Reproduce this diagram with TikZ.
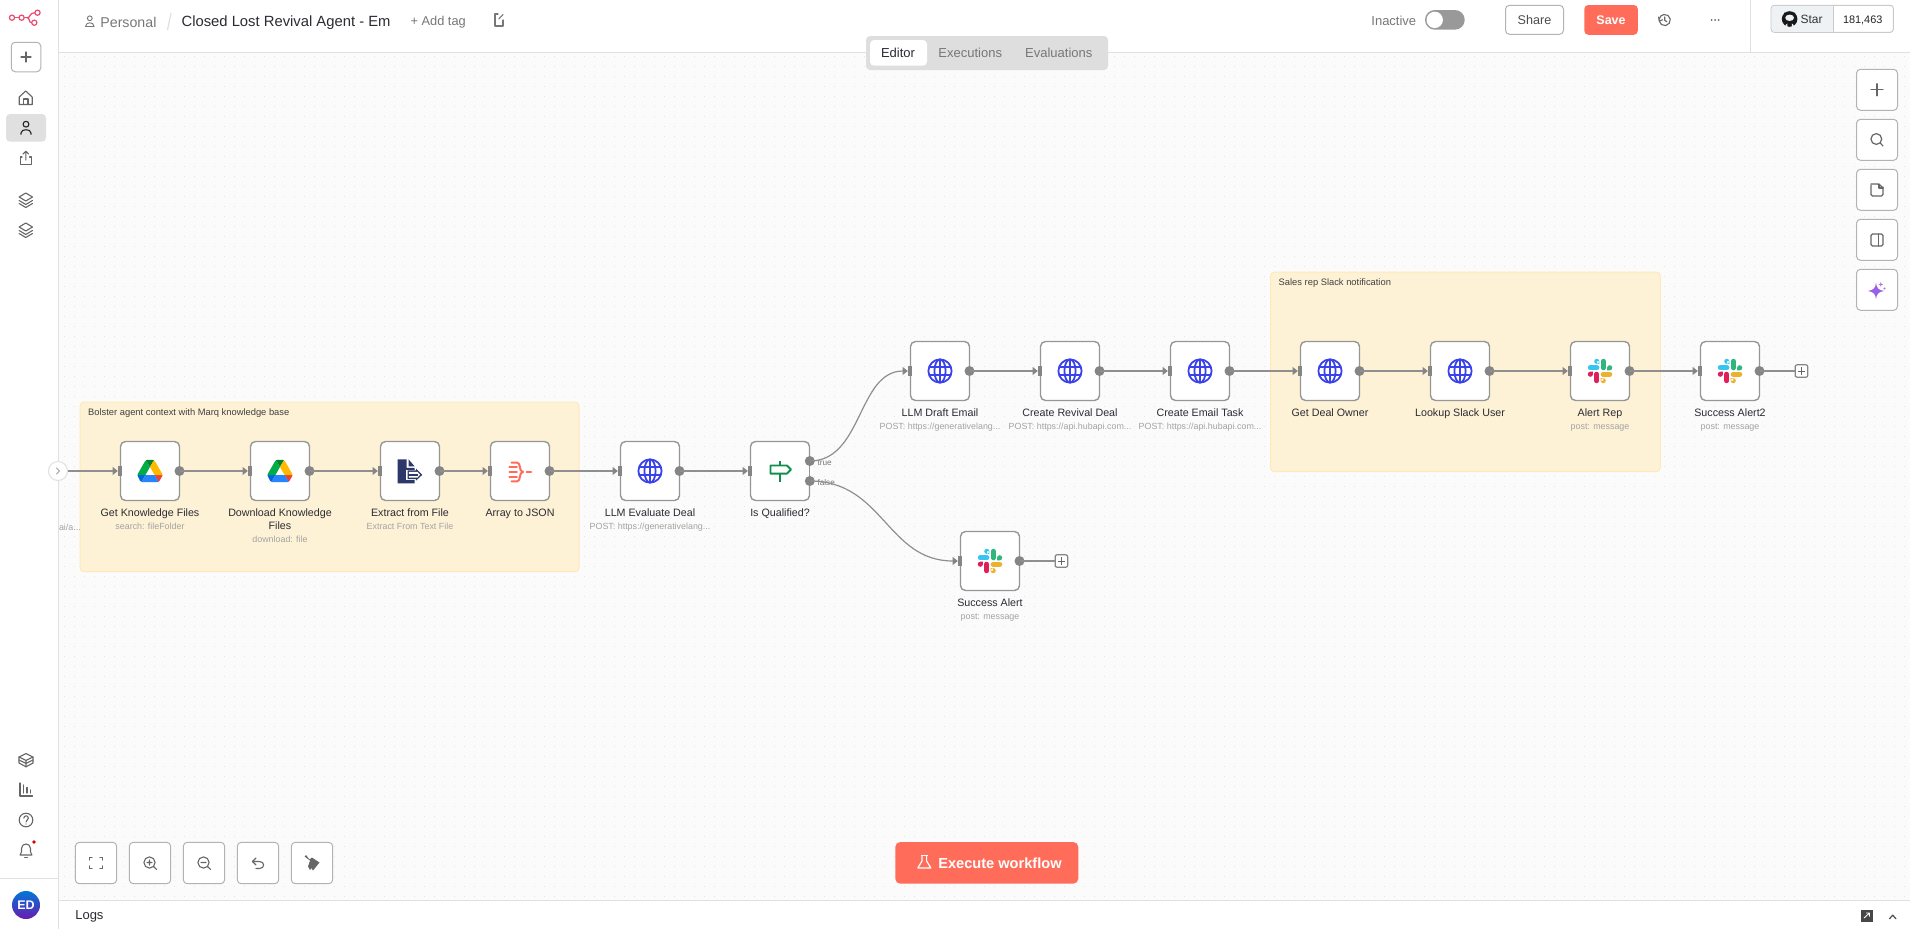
\documentclass[tikz,border=0pt]{standalone}
\usepackage{fontspec}
\setmainfont{Liberation Sans}
\usetikzlibrary{arrows.meta}
\definecolor{canvasc}{HTML}{FBFBFB}
\definecolor{linec}{HTML}{E0E0E0}
\definecolor{dotc}{HTML}{E4E4E4}
\definecolor{edgec}{HTML}{8F8F8F}
\definecolor{portc}{HTML}{858585}
\definecolor{boxc}{HTML}{969696}
\definecolor{groupf}{HTML}{FEF2D6}
\definecolor{groupd}{HTML}{FFE9B8}
\definecolor{inkc}{HTML}{2B2B33}
\definecolor{subc}{HTML}{A3A3A3}
\definecolor{greyt}{HTML}{777777}
\definecolor{iconc}{HTML}{666666}
\definecolor{btnd}{HTML}{B3B3B3}
\definecolor{coral}{HTML}{FF6D5A}
\definecolor{pinkc}{HTML}{EA4B71}
\definecolor{globec}{HTML}{3A42E9}
\definecolor{navyc}{HTML}{2D3768}
\definecolor{ifc}{HTML}{0E8F4A}
\definecolor{tabc}{HTML}{DEDEDE}
\newcommand{\fz}[2]{\fontsize{#1}{#2}\selectfont}
\tikzset{
  nodebox/.style={draw=boxc,line width=1.4,fill=white,rounded corners=5,minimum width=59,minimum height=59,inner sep=0,outer sep=0},
  lab/.style={anchor=north,align=center,inner sep=0,outer sep=0,text=inkc,font=\fz{10.7}{13}},
  sublab/.style={anchor=north,align=center,inner sep=0,outer sep=0,text=subc,font=\fz{8.9}{13}},
  conn/.style={draw=edgec,line width=1.2,shorten >=7.5},
  stub/.style={draw=edgec,line width=1.2},
  groupbox/.style={draw=groupd,line width=1,fill=groupf,rounded corners=4},
  grouptitle/.style={anchor=west,inner sep=0,text=black!75,font=\fz{9.35}{11}},
  uibtn/.style={draw=btnd,line width=1,fill=white,rounded corners=4,inner sep=0,outer sep=0},
  ico/.style={draw=iconc,line width=1.1,line cap=round,line join=round},
  plusbox/.style={draw=portc,line width=1.2,fill=white,rounded corners=2,minimum size=12.5,inner sep=0,outer sep=0},
  uitext/.style={inner sep=0,outer sep=0},
}
\newcommand{\globeicon}{%
  \begin{scope}[draw=globec,line width=1.8]
    \draw (0,0) circle (11.6);
    \draw (0,0) ellipse (5.6 and 11.6);
    \draw (0,-11.6) -- (0,11.6);
    \draw (-10.6,-4.2) -- (10.6,-4.2);
    \draw (-10.6,4.2) -- (10.6,4.2);
  \end{scope}}
\newcommand{\driveicon}{%
  \begin{scope}[x=.286pt,y=-.286pt,shift={(-43.65,-39)}]
    \fill[fill={rgb,255:red,0;green,102;blue,218}] (0,53) -- (27.5,53) -- (13.75,76.8) -- (9,73) -- (1.2,57.5) -- cycle;
    \fill[fill={rgb,255:red,0;green,172;blue,71}] (43.65,25) -- (27.5,53) -- (0,53) -- (1.2,48.5) -- (26.6,4.5) -- (29.9,1.2) -- cycle;
    \fill[fill={rgb,255:red,234;green,67;blue,53}] (87.3,53) -- (59.8,53) -- (73.55,76.8) -- (77,73) -- (86.1,57.5) -- cycle;
    \fill[fill={rgb,255:red,0;green,131;blue,45}] (43.65,25) -- (57.4,1.2) -- (52.9,0) -- (34.4,0) -- (29.9,1.2) -- cycle;
    \fill[fill={rgb,255:red,38;green,132;blue,252}] (59.8,53) -- (27.5,53) -- (13.75,76.8) -- (18.25,78) -- (69.05,78) -- (73.55,76.8) -- cycle;
    \fill[fill={rgb,255:red,255;green,186;blue,0}] (73.4,26.5) -- (60.7,4.5) -- (57.4,1.2) -- (43.65,25) -- (59.8,53) -- (87.3,53) -- (86.1,48.5) -- cycle;
  \end{scope}}
\definecolor{slackr}{HTML}{E01E5A}
\definecolor{slackb}{HTML}{36C5F0}
\definecolor{slackg}{HTML}{2EB67D}
\definecolor{slacky}{HTML}{ECB22E}
\newcommand{\slackicon}{%
  \begin{scope}[x=1.02pt,y=-1.02pt,shift={(-12,-12)},line width=5.14,line cap=round]
    \draw[slackb] (2.52,8.834) -- (8.834,8.834);
    \fill[slackb] (8.834,2.52) circle (2.52) (8.834,2.52) rectangle (11.355,5.042);
    \draw[slackg] (15.165,2.52) -- (15.165,8.834);
    \fill[slackg] (21.48,8.834) circle (2.52) (21.48,8.834) rectangle (18.956,11.355);
    \draw[slackr] (8.834,15.165) -- (8.834,21.48);
    \fill[slackr] (2.52,15.165) circle (2.52) (2.52,15.165) rectangle (5.04,12.645);
    \draw[slacky] (15.165,15.165) -- (21.48,15.165);
    \fill[slacky] (15.165,21.48) circle (2.52) (15.165,21.48) rectangle (12.645,18.956);
  \end{scope}}
\newcommand{\extracticon}{%
  \fill[navyc] (-12.3,-11.7) -- (-3.3,-11.7) -- (-3.3,-3.2) -- (4.5,-3.2) -- (4.5,12.3) -- (-12.3,12.3) -- cycle;
  \fill[navyc] (-1.4,-11.7) -- (4.6,-4.6) -- (-1.4,-4.6) -- cycle;
  \fill[white] (-3.6,-0.9) rectangle (5.8,8.6);
  \fill[navyc] (-2.4,-0.7) -- (6,-0.7) -- (6,-2.4) -- (12.3,3.8) -- (6,9.6) -- (6,8.2) -- (-2.4,8.2) -- cycle;
  \fill[white] (-1.2,0.9) -- (7.4,0.9) -- (7.4,0.8) -- (10,3.7) -- (7.4,6.6) -- (7.4,6.6) -- (-1.2,6.6) -- cycle;
  \fill[navyc] (-2.4,3) rectangle (8,4.6);}
\newcommand{\arrayicon}{%
  \begin{scope}[draw=coral,line width=2,line cap=round,line join=round]
    \draw (-10.6,-3.6) -- (-3.2,-3.6);
    \draw (-10.6,1) -- (-3.2,1);
    \draw (-10.6,5.6) -- (-3.2,5.6);
    \draw (-8.5,-8.4) -- (-3,-8.4) .. controls (1.3,-8.4) and (-1.6,0.6) .. (3,0.9) .. controls (-1.6,1.2) and (1.3,10.4) .. (-3,10.4) -- (-8.5,10.4);
    \draw (6.6,0.9) -- (11.2,0.9);
  \end{scope}}
\newcommand{\ificon}{%
  \begin{scope}[draw=ifc,line width=1.9,line join=round]
    \draw (0,-10) -- (0,11);
    \draw[fill=white] (-9.5,-5.5) -- (7,-5.5) -- (11,-1.5) -- (7,2.6) -- (-9.5,2.6) -- cycle;
  \end{scope}}
\newcommand{\flow}[6]{%
  \node[nodebox] (#1) at (#2,#3) {};
  \fill[portc] ([xshift=-2.7]#1.west) ++(0,-4.7) rectangle ++(4.6,9.4);
  \fill[portc] ([xshift=-8]#1.west) ++(0,-4.2) -- ++(5.3,4.2) -- ++(-5.3,4.2) -- cycle;
  \fill[portc] (#1.east) circle (5);
  \begin{scope}[shift={(#1.center)}]#4\end{scope}
  \node[lab] (#1lab) at (#2,#3+36.6) {#5};
  \if\relax\detokenize{#6}\relax\else\node[sublab] (#1sub) at (#1lab.south) {#6\strut};\fi
}
\newcommand{\dotrow}[1]{\draw[dotc,line width=1,dash pattern=on 1pt off 9pt] (64,#1) -- (1910,#1);}
\begin{document}
\begin{tikzpicture}[x=1pt,y=-1pt,line cap=butt]
\useasboundingbox (0,0) rectangle (1910,929);
\fill[white] (0,0) rectangle (1910,929);
\fill[canvasc] (58.5,52.5) rectangle (1910,900.5);
\foreach \r in {56,66,...,896}{\dotrow{\r}}
% chrome lines
\draw[linec,line width=1.2] (58.5,0) -- (58.5,929);
\draw[linec,line width=1.2] (58.5,52.5) -- (1910,52.5);
\draw[linec,line width=1.2] (58.5,900.5) -- (1910,900.5);
\draw[linec,line width=1] (0,878) -- (58.5,878);
\draw[linec,line width=1] (1750.5,0) -- (1750.5,52.5);
% sticky groups
\draw[groupbox] (80,402) rectangle (579,571.7);
\node[grouptitle] (gtitleA) at (88,413.5) {Bolster agent context with Marq knowledge base};
\draw[groupbox] (1270.5,272) rectangle (1660.3,471.7);
\node[grouptitle] (gtitleB) at (1278.5,283.5) {Sales rep Slack notification};
% clipped start label and handle
\node[sublab,anchor=west] (cutlab) at (59,527) {ai/a...};
\node[draw=linec,line width=1,fill=white,circle,minimum size=19,inner sep=0,outer sep=0] (handle) at (58,471) {};
\draw[draw=iconc!60,line width=.9,line cap=round] (56.5,468) -- (59.5,471) -- (56.5,474);
% flow nodes
\flow{getk}{150}{471}{\driveicon}{Get Knowledge Files\strut}{search: fileFolder}
\flow{dlk}{280}{471}{\driveicon}{Download Knowledge\strut\\Files\strut}{download: file}
\flow{extr}{410}{471}{\extracticon}{Extract from File\strut}{Extract From Text File}
\flow{arrj}{520}{471}{\arrayicon}{Array to JSON\strut}{}
\flow{eval}{650}{471}{\globeicon}{LLM Evaluate Deal\strut}{POST: https://generativelang...}
\flow{ifq}{780}{471}{\ificon}{Is Qualified?\strut}{}
\flow{draft}{940}{371}{\globeicon}{LLM Draft Email\strut}{POST: https://generativelang...}
\flow{reviv}{1070}{371}{\globeicon}{Create Revival Deal\strut}{POST: https://api.hubapi.com...}
\flow{task}{1200}{371}{\globeicon}{Create Email Task\strut}{POST: https://api.hubapi.com...}
\flow{owner}{1330}{371}{\globeicon}{Get Deal Owner\strut}{}
\flow{look}{1460}{371}{\globeicon}{Lookup Slack User\strut}{}
\flow{alert}{1600}{371}{\slackicon}{Alert Rep\strut}{post: message}
\flow{succb}{1730}{371}{\slackicon}{Success Alert2\strut}{post: message}
\flow{succa}{990}{561}{\slackicon}{Success Alert\strut}{post: message}
% ports of the If node (upper and lower output)
\fill[white] (ifq.east) circle (5.4);
\draw[boxc,line width=1.4] (809.5,465) -- (809.5,477);
\coordinate (qtrue) at (809.8,461);
\coordinate (qfalse) at (809.8,481);
\fill[portc] (qtrue) circle (5) (qfalse) circle (5);
\node[uitext,anchor=west,text=greyt,font=\fz{8.2}{10}] (ttrue) at (817.5,462.7) {true};
\node[uitext,anchor=west,text=greyt,font=\fz{8.2}{10}] (tfalse) at (817.5,482.7) {false};
% plus boxes
\node[plusbox] (plusa) at (1061.4,561) {};
\node[plusbox] (plusb) at (1801.5,371) {};
\draw[iconc,line width=.7] (1057.8,561) -- (1065,561) (1061.4,557.4) -- (1061.4,564.6);
\draw[iconc,line width=.7] (1797.9,371) -- (1805.1,371) (1801.5,367.4) -- (1801.5,374.6);
% connectors
\draw[conn] (handle.east) -- (getk.west);
\draw[conn] (getk.east) -- (dlk.west);
\draw[conn] (dlk.east) -- (extr.west);
\draw[conn] (extr.east) -- (arrj.west);
\draw[conn] (arrj.east) -- (eval.west);
\draw[conn] (eval.east) -- (ifq.west);
\draw[conn] (qtrue) to[out=0,in=180,looseness=1] (draft.west);
\draw[conn] (qfalse) to[out=0,in=180,looseness=1.1] (succa.west);
\draw[conn] (draft.east) -- (reviv.west);
\draw[conn] (reviv.east) -- (task.west);
\draw[conn] (task.east) -- (owner.west);
\draw[conn] (owner.east) -- (look.west);
\draw[conn] (look.east) -- (alert.west);
\draw[conn] (alert.east) -- (succb.west);
\draw[stub] (succa.east) -- (plusa.west);
\draw[stub] (succb.east) -- (plusb.west);
% top bar text
\draw[greyt,line width=.9] (89.8,18.3) circle (2.4);
\draw[greyt,line width=.9,line cap=round] (85.6,26.5) .. controls (85.6,21.5) and (94,21.5) .. (94,26.5) -- cycle;
\node[uitext,anchor=west,text=greyt,font=\fz{14.2}{16}] (crumb) at (100.4,22.4) {Personal};
\draw[linec,line width=1.2] (171,13) -- (167.5,30);
\node[uitext,anchor=west,text=inkc,font=\fz{14.8}{16}] (wfname) at (181.6,22.4) {Closed Lost Revival Agent - Em};
\node[uitext,anchor=west,text=greyt,font=\fz{12.8}{14}] (addtag) at (410.6,22) {+ Add tag};
\draw[ico,greyt] (498,14) -- (495,14) -- (495,26) -- (503,26) -- (503,20);
\draw[ico,greyt] (498.8,19) -- (503,14.5);
% tabs
\draw[fill=tabc,draw=none,rounded corners=4] (866,36) rectangle (1108,70);
\draw[fill=white,draw=none,rounded corners=4] (870,40) rectangle (927,65.7);
\node[uitext,text=inkc,font=\fz{13}{15}] (tabed) at (898,53) {Editor};
\node[uitext,text=greyt,font=\fz{13}{15}] (tabex) at (970.2,53) {Executions};
\node[uitext,text=greyt,font=\fz{13}{15}] (tabev) at (1058.8,53) {Evaluations};
% right of top bar
\node[uitext,text=greyt,font=\fz{13}{15}] (inact) at (1393.8,21) {Inactive};
\fill[black!40,rounded corners=9.8] (1425,10) rectangle (1464.7,29.7);
\fill[white] (1434.7,19.9) circle (8.2);
\node[uitext,uibtn,minimum width=58,minimum height=29] (share) at (1534.5,19.8) {};
\node[uitext,text=black!70,font=\fz{12.6}{15}] (sharet) at (1534.5,20.3) {Share};
\fill[coral,rounded corners=4] (1584.3,5) rectangle (1637.8,34.8);
\node[uitext,text=white,font=\bfseries\fz{12.5}{15}] (savet) at (1611,19.8) {Save};
% history and dots
\draw[ico] (1659.2,21) arc (170:-170:5.6 and 5.6);
\draw[ico] (1664.7,17) -- (1664.7,20.3) -- (1667,21.8);
\draw[ico] (1658.6,17) -- (1659.2,21) -- (1662.6,19.8);
\fill[iconc] (1711.5,20) circle (1) (1715,20) circle (1) (1718.5,20) circle (1);
% github
\draw[btnd!70,line width=1,fill=white,rounded corners=3] (1771.2,5.3) rectangle (1893.3,32.3);
\fill[fill={rgb,255:red,239;green,242;blue,245},rounded corners=3] (1771.7,5.8) rectangle (1833.3,31.8);
\draw[btnd!70,line width=1] (1833.3,5.3) -- (1833.3,32.3);
\fill[black!90] (1789.6,19) circle (7.8);
\fill[black!90] (1784.2,12.6) -- (1788,13.6) -- (1784,17) -- cycle (1795,12.6) -- (1791.2,13.6) -- (1795.2,17) -- cycle;
\fill[fill={rgb,255:red,239;green,242;blue,245}] (1789.6,17.8) ellipse (4.4 and 3.2);
\fill[fill={rgb,255:red,239;green,242;blue,245}] (1785.6,25) -- (1787.4,23.4) -- (1787.4,27.4) -- (1785.6,27.4) -- cycle (1793.6,25) -- (1791.8,23.4) -- (1791.8,27.4) -- (1793.6,27.4) -- cycle;
\node[uitext,text=black!80,font=\fz{12}{14}] (start) at (1811.6,19.8) {Star};
\node[uitext,text=black!85,font=\fz{10.9}{14}] (starn) at (1862.7,20.2) {181,463};
% right tool buttons
\node[uibtn,minimum width=41,minimum height=41] (tplus) at (1877,89.8) {};
\node[uibtn,minimum width=41,minimum height=41] (tsearch) at (1877,139.8) {};
\node[uibtn,minimum width=41,minimum height=41] (tnote) at (1877,189.8) {};
\node[uibtn,minimum width=41,minimum height=41] (tpanel) at (1877,239.8) {};
\node[uibtn,minimum width=41,minimum height=41] (tspark) at (1877,289.8) {};
\draw[ico,line width=1.3] (1871,89.8) -- (1883,89.8) (1877,83.8) -- (1877,95.8);
\draw[ico,line width=1.2] (1876.3,139) circle (5.4) (1880.2,143) -- (1883,146);
\draw[ico,line width=1.3] (1871,185) [rounded corners=1.5] -- (1871,196) -- (1883,196) -- (1883,187);
\draw[ico,line width=1.3] (1871,184) [rounded corners=1.5] -- (1879,184) -- (1883,188);
\draw[ico,line width=1.3] (1879,184) -- (1879,188) -- (1883,188);
\draw[ico,line width=1.3,rounded corners=1.5] (1871,234) rectangle (1883,246);
\draw[ico,line width=1.3] (1878.4,234) -- (1878.4,246);
\definecolor{sparkc}{HTML}{9A5FE8}
\fill[sparkc] (1876,283) .. controls (1876.8,288) and (1878,290) .. (1884,291) .. controls (1878,292) and (1876.8,294) .. (1876,299) .. controls (1875.2,294) and (1874,292) .. (1868,291) .. controls (1874,290) and (1875.2,288) .. (1876,283) -- cycle;
\fill[sparkc!80!pink] (1880.8,282) -- (1881.4,283.8) -- (1883.2,284.4) -- (1881.4,285) -- (1880.8,287) -- (1880.2,285) -- (1878.4,284.4) -- (1880.2,283.8) -- cycle;
\fill[sparkc!80!pink] (1884.5,288.5) circle (1.1);
% sidebar
\begin{scope}[pinkc,line width=1.2]
  \draw (12,17.7) circle (2.6) (21.6,17.7) circle (2.6) (37.5,12.7) circle (2.6) (34.3,22.7) circle (2.6);
  \draw (14.6,17.7) -- (19,17.7) (24.2,17.7) -- (27,17.7);
  \draw (34.9,12.7) .. controls (29,12.7) and (31,17.7) .. (27,17.7) .. controls (30.5,17.7) and (28,22.7) .. (31.7,22.7);
\end{scope}
\node[uibtn,minimum width=29.5,minimum height=29.5] (newbtn) at (26,57) {};
\draw[ico,line width=1.2] (21,57) -- (31,57) (26,52) -- (26,62);
% home
\draw[ico] (19.2,97) -- (25.7,91) -- (32.2,97) -- (32.2,104.5) -- (19.2,104.5) -- cycle;
\draw[ico] (23.4,104.5) -- (23.4,99) -- (28,99) -- (28,104.5);
% personal active
\fill[black!12,rounded corners=4] (6,114) rectangle (46,141.7);
\draw[ico,black!85] (26,124.2) circle (2.9);
\draw[ico,black!85] (21,134.2) -- (21,133) .. controls (21,128.6) and (31,128.6) .. (31,133) -- (31,134.2);
% share
\draw[ico] (22,157) -- (20.2,157) -- (20.2,164.5) -- (31.4,164.5) -- (31.4,157) -- (29.6,157);
\draw[ico] (25.8,160) -- (25.8,151.3) (23,154) -- (25.8,151.3) -- (28.6,154);
% layers
\foreach \ly in {200,230}{
  \draw[ico] (25.8,\ly-7) -- (32.5,\ly-3) -- (25.8,\ly+1) -- (19.1,\ly-3) -- cycle;
  \draw[ico] (19.1,\ly+.5) -- (25.8,\ly+4.5) -- (32.5,\ly+.5);
  \draw[ico] (19.1,\ly+3.5) -- (25.8,\ly+7.5) -- (32.5,\ly+3.5);
}
% box
\draw[ico] (26,753.6) -- (33,757) -- (26,760.4) -- (19,757) -- cycle;
\draw[ico] (19,757) -- (19,763) -- (26,766.8) -- (33,763) -- (33,757);
\draw[ico] (26,760.4) -- (26,766.8) (19,760) -- (26,763.4) -- (33,760);
% chart
\draw[ico] (20,783) -- (20,796) -- (32.6,796);
\draw[ico] (23.5,785) -- (23.5,793) (27,787.5) -- (27,793) (30.5,790) -- (30.5,793);
% help
\draw[ico] (26,820) circle (6.8);
\draw[ico] (23.8,818.2) .. controls (24,815) and (28.4,815) .. (28.3,818.2) .. controls (28.3,820) and (26,820) .. (26,822);
\fill[iconc] (26,824) circle (.7);
% bell
\draw[ico] (20,855) -- (32,855) -- (30.5,852) -- (30.5,848.5) .. controls (30.5,842.5) and (21.5,842.5) .. (21.5,848.5) -- (21.5,852) -- cycle;
\draw[ico] (24.6,857.5) -- (27.4,857.5);
\fill[red!85!black] (34,842) circle (1.9);
% avatar
\shade[top color=blue!45!cyan!85!black,bottom color=violet!70!blue!90!white] (26,905) circle (14);
\node[uitext,text=white,font=\bfseries\fz{12.5}{14}] (avatar) at (26,905) {ED};
% bottom left buttons
\node[uibtn,minimum width=41.4,minimum height=41.4] (bfit) at (96,863) {};
\node[uibtn,minimum width=41.4,minimum height=41.4] (bzin) at (150,863) {};
\node[uibtn,minimum width=41.4,minimum height=41.4] (bzout) at (204,863) {};
\node[uibtn,minimum width=41.4,minimum height=41.4] (bundo) at (258,863) {};
\node[uibtn,minimum width=41.4,minimum height=41.4] (bclean) at (312,863) {};
\draw[ico,line width=1.2] (89.5,860) -- (89.5,857.5) -- (92,857.5) (100,857.5) -- (102.5,857.5) -- (102.5,860) (102.5,866) -- (102.5,868.5) -- (100,868.5) (92,868.5) -- (89.5,868.5) -- (89.5,866);
\draw[ico] (149.5,862.5) circle (5.6) (153.6,866.6) -- (156.5,869.4) (147,862.5) -- (152,862.5) (149.5,860) -- (149.5,865);
\draw[ico] (203.5,862.5) circle (5.6) (207.6,866.6) -- (210.5,869.4) (201,862.5) -- (206,862.5);
\draw[ico] (256,858) -- (252.5,861.5) -- (256,865);
\draw[ico] (252.5,861.5) -- (259.5,861.5) .. controls (265,861.5) and (265,868.5) .. (259.5,868.5) -- (256,868.5);
\fill[iconc] (304.5,856.5) -- (306,855) -- (309.5,859.5) -- (312,857.5) -- (319.5,862.5) -- (313,870.5) -- (311.5,868) -- (310,870) -- (308,866.5) -- (310,860.5) -- cycle;
% logs
\node[uitext,anchor=west,text=inkc,font=\fz{13}{15}] (logs) at (75.3,916.7) {Logs};
\fill[iconc!70!black] (1860.7,909.7) rectangle (1872.7,921.7);
\draw[white,line width=.9] (1864,918) -- (1869.5,913) (1866,913) -- (1869.5,913) -- (1869.5,916.5);
\draw[ico,line width=1.2,black!70] (1889.5,918.7) -- (1892.7,915.2) -- (1895.9,918.7);
% execute
\fill[coral,rounded corners=5] (895.3,842) rectangle (1078.3,883.7);
\draw[white,line width=1.2,line join=round] (922,855.5) -- (922,861) -- (917.8,868) -- (930.8,868) -- (926.6,861) -- (926.6,855.5);
\draw[white,line width=1.2] (921,855.5) -- (927.6,855.5);
\node[uitext,anchor=west,text=white,font=\bfseries\fz{14.6}{16}] (exec) at (938.3,863.2) {Execute workflow};
\end{tikzpicture}
\end{document}
